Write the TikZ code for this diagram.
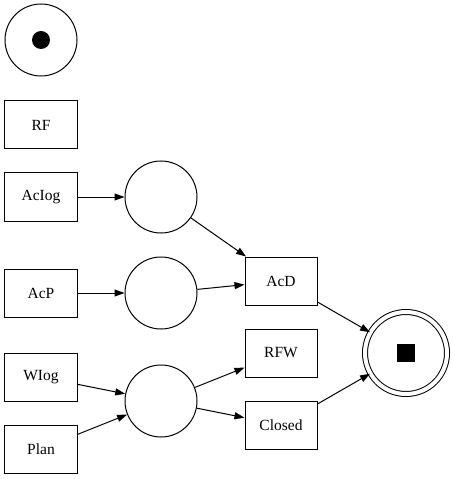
\documentclass[tikz,border=0pt]{standalone}
\usepackage{fontspec}
\setmainfont{Liberation Serif}
\usetikzlibrary{arrows.meta}
\begin{document}
\begin{tikzpicture}[x=1bp,y=-1bp,
  every node/.style={font=\fontsize{15.5bp}{18bp}\selectfont},
  trans/.style={draw,line width=1bp,minimum width=72bp,minimum height=48bp,inner sep=0pt},
  place/.style={draw,circle,line width=1bp,minimum size=72bp,inner sep=0pt},
  arc/.style={line width=1bp,-{Triangle[length=10bp,width=7bp]}}]
\useasboundingbox (0,0) rectangle (453,479);
\node[place] (start) at (41,40) {};
\fill (start.center) circle (9bp);
\node[trans] (RF) at (41,125) {RF};
\node[trans] (AcIog) at (41,197) {AcIog};
\node[trans] (AcP) at (41,293) {AcP};
\node[trans] (WIog) at (41,377) {WIog};
\node[trans] (Plan) at (41,449) {Plan};
\node[place] (p1) at (161,197) {};
\node[place] (p2) at (161,293) {};
\node[place] (p3) at (161,401) {};
\node[trans] (AcD) at (281,281) {AcD};
\node[trans] (RFW) at (281,353) {RFW};
\node[trans] (Closed) at (281,425) {Closed};
\node[place,minimum size=82bp,double,double distance=4bp,line width=1bp] (end) at (406,353) {};
\fill (397,344) rectangle (415,362);
\draw[arc] (AcIog) -- (p1);
\draw[arc] (AcP) -- (p2);
\draw[arc] (WIog) -- (p3);
\draw[arc] (Plan) -- (p3);
\draw[arc] (p1) -- (AcD);
\draw[arc] (p2) -- (AcD);
\draw[arc] (p3) -- (RFW);
\draw[arc] (p3) -- (Closed);
\draw[arc] (AcD) -- (end);
\draw[arc] (Closed) -- (end);
\end{tikzpicture}
\end{document}
